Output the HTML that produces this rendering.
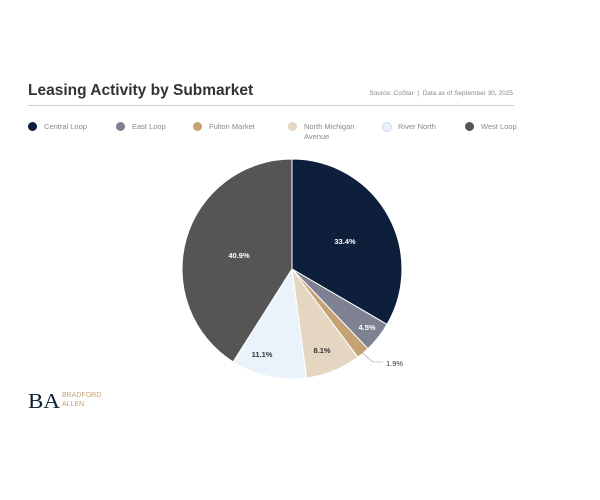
<!DOCTYPE html>
<html><head><style>
body{margin:0;width:600px;height:500px;background:#fff;font-family:"Liberation Sans",sans-serif;position:relative;overflow:hidden}
.t{position:absolute;left:28px;top:82px;font-size:15.5px;font-weight:bold;color:#333}
.s{position:absolute;right:87px;top:90px;font-size:6.5px;color:#888}
.hr{position:absolute;left:28px;top:105px;width:486px;height:1px;background:#ccc}
.lg{position:absolute;top:122px;font-size:7.5px;color:#888;line-height:10px}
.lg i{position:absolute;left:0;top:0;width:9px;height:9px;border-radius:50%}
.lg span{position:absolute;left:16px;top:0;white-space:nowrap}
</style></head><body>
<div class="t">Leasing Activity by Submarket</div>
<div class="s">Source: CoStar &nbsp;|&nbsp; Data as of September 30, 2025</div>
<div class="hr"></div>
<div class="lg" style="left:28px"><i style="background:#0d1f3a"></i><span>Central Loop</span></div>
<div class="lg" style="left:116px"><i style="background:#7e8191"></i><span>East Loop</span></div>
<div class="lg" style="left:193px"><i style="background:#c4a273"></i><span>Fulton Market</span></div>
<div class="lg" style="left:288px"><i style="background:#e5d6c2"></i><span>North Michigan<br>Avenue</span></div>
<div class="lg" style="left:382px"><i style="background:#eaf2fb;border:1px solid #cfdbe8;width:8px;height:8px"></i><span>River North</span></div>
<div class="lg" style="left:465px"><i style="background:#555"></i><span>West Loop</span></div>
<svg width="600" height="500" style="position:absolute;left:0;top:0" font-family="Liberation Sans, sans-serif" font-size="7.5" font-weight="bold">
<g stroke="#fff" stroke-width="1">
<path d="M292,269 L292,159 A110,110 0 0 1 387,324.4 Z" fill="#0d1f3a"/>
<path d="M292,269 L387,324.4 A110,110 0 0 1 367.9,348.7 Z" fill="#7e8191"/>
<path d="M292,269 L367.9,348.7 A110,110 0 0 1 357.8,357.2 Z" fill="#c4a273"/>
<path d="M292,269 L357.8,357.2 A110,110 0 0 1 306.5,378 Z" fill="#e5d6c2"/>
<path d="M292,269 L306.5,378 A110,110 0 0 1 233.1,361.9 Z" fill="#eaf2fb"/>
<path d="M292,269 L233.1,361.9 A110,110 0 0 1 292,159 Z" fill="#555"/>
</g>
<polyline points="361,352 373,362 383,362" fill="none" stroke="#999" stroke-width="0.6"/>
<text x="345" y="244" fill="#fff" text-anchor="middle">33.4%</text>
<text x="367" y="330" fill="#fff" text-anchor="middle">4.5%</text>
<text x="386" y="366" fill="#333" font-weight="normal">1.9%</text>
<text x="322" y="353" fill="#333" text-anchor="middle">8.1%</text>
<text x="262" y="357" fill="#333" text-anchor="middle">11.1%</text>
<text x="239" y="258" fill="#fff" text-anchor="middle">40.9%</text>
<text x="28" y="408" font-family="Liberation Serif, serif" font-size="21" font-weight="normal" fill="#0d1f3a" textLength="32" lengthAdjust="spacingAndGlyphs">BA</text>
<text x="62" y="397" font-size="7" font-weight="normal" fill="#c4a273">BRADFORD</text>
<text x="62" y="406" font-size="7" font-weight="normal" fill="#c4a273">ALLEN</text>
</svg>
</body></html>
